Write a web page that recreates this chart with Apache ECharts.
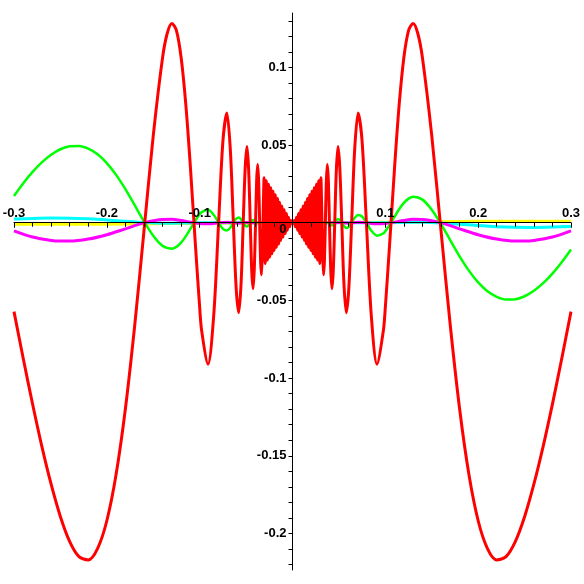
<!DOCTYPE html>
<html>
<head>
<meta charset="utf-8">
<script src="https://cdn.jsdelivr.net/npm/echarts@6/dist/echarts.min.js"></script>
<style>
html,body{margin:0;padding:0;background:#fff;}
#c{width:584px;height:584px;}
</style>
</head>
<body>
<div id="c"></div>
<script>
// ---- data ----
const xTickLabels = [-0.3, -0.2, -0.1, 0.1, 0.2, 0.3];
const yMajorTicks = [-0.2, -0.15, -0.1, -0.05, 0, 0.05, 0.1];
const yAllTicks = [-0.22, -0.21, -0.2, -0.19, -0.18, -0.17, -0.16, -0.15, -0.14, -0.13, -0.12, -0.11, -0.1,
  -0.09, -0.08, -0.07, -0.06, -0.05, -0.04, -0.03, -0.02, -0.01, 0, 0.01, 0.02, 0.03, 0.04, 0.05,
  0.06, 0.07, 0.08, 0.09, 0.1, 0.11, 0.12, 0.13];

const redX = [
  -0.30,-0.29,-0.28,-0.27,-0.26,-0.25,-0.24,-0.23,-0.22,-0.21,-0.20,-0.19,-0.18,-0.17,-0.16,-0.15,-0.14,-0.135,-0.13,-0.125,-0.12,-0.115,-0.11,-0.105,-0.10,
  -0.0979,-0.0910,-0.0849,-0.0796,-0.0749,-0.0707,-0.0670,-0.0637,-0.0606,-0.0579,-0.0554,-0.0531,-0.0509,-0.0490,-0.0472,-0.0455,-0.0439,-0.0424,-0.0411,-0.0398,-0.0386,-0.0375,-0.0364,-0.0354,-0.0344,-0.0335,-0.0327,-0.0318,
  -0.0306,-0.0294,-0.0282,-0.0270,-0.0258,-0.0246,-0.0234,-0.0222,-0.0210,-0.0198,-0.0186,-0.0174,-0.0162,-0.0150,-0.0138,-0.0126,-0.0114,-0.0102,-0.0090,-0.0078,-0.0066,-0.0054,-0.0042,-0.0030,-0.0018,-0.0006,
  0,
  0.0006,0.0018,0.0030,0.0042,0.0054,0.0066,0.0078,0.0090,0.0102,0.0114,0.0126,0.0138,0.0150,0.0162,0.0174,0.0186,0.0198,0.0210,0.0222,0.0234,0.0246,0.0258,0.0270,0.0282,0.0294,0.0306,
  0.0318,0.0327,0.0335,0.0344,0.0354,0.0364,0.0375,0.0386,0.0398,0.0411,0.0424,0.0439,0.0455,0.0472,0.0490,0.0509,0.0531,0.0554,0.0579,0.0606,0.0637,0.0670,0.0707,0.0749,0.0796,0.0849,0.0910,0.0979,
  0.10,0.105,0.11,0.115,0.12,0.125,0.13,0.135,0.14,0.15,0.16,0.17,0.18,0.19,0.20,0.21,0.22,0.23,0.24,0.25,0.26,0.27,0.28,0.29,0.30
];
const redY = [
  -0.0572,-0.0875,-0.1167,-0.1439,-0.1683,-0.1892,-0.2052,-0.2149,-0.2170,-0.2097,-0.1918,-0.1619,-0.1197,-0.0663,-0.0053,0.0561,0.1061,0.1218,0.1283,0.1237,0.1065,0.0766,0.0360,-0.0104,-0.0544,
  -0.0693,-0.0910,-0.0600,0,0.0530,0.0707,0.0474,0,-0.0429,-0.0579,-0.0391,0,0.0360,0.0490,0.0334,0,-0.0311,-0.0424,-0.0290,0,0.0273,0.0375,0.0257,0,-0.0243,-0.0335,-0.0231,0,
  0.0290,-0.0262,0.0270,-0.0240,0.0248,-0.0222,0.0226,-0.0200,0.0202,-0.0178,0.0180,-0.0158,0.0156,-0.0136,0.0132,-0.0114,0.0108,-0.0092,0.0084,-0.0070,0.0060,-0.0048,0.0036,-0.0026,0.0014,-0.0004,
  0,
  -0.0004,0.0014,-0.0026,0.0036,-0.0048,0.0060,-0.0070,0.0084,-0.0092,0.0108,-0.0114,0.0132,-0.0136,0.0156,-0.0158,0.0180,-0.0178,0.0202,-0.0200,0.0226,-0.0222,0.0248,-0.0240,0.0270,-0.0262,0.0290,
  0,-0.0231,-0.0335,-0.0243,0,0.0257,0.0375,0.0273,0,-0.0290,-0.0424,-0.0311,0,0.0334,0.0490,0.0360,0,-0.0391,-0.0579,-0.0429,0,0.0474,0.0707,0.0530,0,-0.0600,-0.0910,-0.0693,
  -0.0544,-0.0104,0.0360,0.0766,0.1065,0.1237,0.1283,0.1218,0.1061,0.0561,-0.0053,-0.0663,-0.1197,-0.1619,-0.1918,-0.2097,-0.2170,-0.2149,-0.2052,-0.1892,-0.1683,-0.1439,-0.1167,-0.0875,-0.0572
];

const greenX = [
  -0.30,-0.29,-0.28,-0.27,-0.26,-0.25,-0.24,-0.23,-0.22,-0.21,-0.20,-0.19,-0.18,-0.17,-0.16,-0.15,-0.14,-0.13,-0.125,-0.12,-0.115,-0.11,-0.105,-0.10,
  -0.0979,-0.0910,-0.0849,-0.0796,-0.0749,-0.0707,-0.0670,-0.0637,-0.0606,-0.0579,-0.0554,-0.0531,-0.0509,-0.0490,-0.0472,-0.0455,-0.0439,-0.0424,-0.0411,-0.0398,
  -0.035,0,0.035,
  0.0398,0.0411,0.0424,0.0439,0.0455,0.0472,0.0490,0.0509,0.0531,0.0554,0.0579,0.0606,0.0637,0.0670,0.0707,0.0749,0.0796,0.0849,0.0910,0.0979,
  0.10,0.105,0.11,0.115,0.12,0.125,0.13,0.14,0.15,0.16,0.17,0.18,0.19,0.20,0.21,0.22,0.23,0.24,0.25,0.26,0.27,0.28,0.29,0.30
];
const greenY = [
  0.0172,0.0254,0.0327,0.0389,0.0438,0.0473,0.0492,0.0494,0.0477,0.0441,0.0384,0.0308,0.0216,0.0113,0.0009,-0.0084,-0.0149,-0.0167,-0.0155,-0.0128,-0.0088,-0.0040,0.0011,0.0054,
  0.0068,0.0083,0.0051,0,-0.0040,-0.0050,-0.0032,0,0.0026,0.0034,0.0022,0,-0.0018,-0.0024,-0.0016,0,0.0014,0.0018,0.0012,0,
  0,0,0,
  0,-0.0012,-0.0018,-0.0014,0,0.0016,0.0024,0.0018,0,-0.0022,-0.0034,-0.0026,0,0.0032,0.0050,0.0040,0,-0.0051,-0.0083,-0.0068,
  -0.0054,-0.0011,0.0040,0.0088,0.0128,0.0155,0.0167,0.0149,0.0084,-0.0009,-0.0113,-0.0216,-0.0308,-0.0384,-0.0441,-0.0477,-0.0494,-0.0492,-0.0473,-0.0438,-0.0389,-0.0327,-0.0254,-0.0172
];

const magentaX = [-0.30,-0.28,-0.26,-0.25,-0.24,-0.22,-0.20,-0.18,-0.16,-0.14,-0.13,-0.12,-0.11,-0.10,-0.09,-0.08,-0.07,-0.06,-0.05,-0.04,
  0, 0.04,0.05,0.06,0.07,0.08,0.09,0.10,0.11,0.12,0.13,0.14,0.16,0.18,0.20,0.22,0.24,0.25,0.26,0.28,0.30];
const magentaY = [-0.0052,-0.0092,-0.0114,-0.0118,-0.0118,-0.0105,-0.0077,-0.0039,-0.0001,0.0021,0.0022,0.0015,0.0004,-0.0005,-0.0007,0,0.0003,-0.0002,0.0001,0,
  0, 0,0.0001,-0.0002,0.0003,0,-0.0007,-0.0005,0.0004,0.0015,0.0022,0.0021,-0.0001,-0.0039,-0.0077,-0.0105,-0.0118,-0.0118,-0.0114,-0.0092,-0.0052];

const cyanX = [-0.30,-0.28,-0.26,-0.24,-0.22,-0.20,-0.18,-0.16,-0.14,-0.12,-0.10,0,0.10,0.12,0.14,0.16,0.18,0.20,0.22,0.24,0.26,0.28,0.30];
const cyanY = [0.0024,0.0028,0.0030,0.0029,0.0025,0.0018,0.0009,0.0001,-0.0003,-0.0002,0,0,0,0.0002,0.0003,-0.0001,-0.0009,-0.0018,-0.0025,-0.0029,-0.0030,-0.0028,-0.0024];

const yellowX = [-0.3,-0.2,-0.1,0,0.1,0.2,0.3];
const yellowY = [-0.0010,-0.0009,-0.0003,0,0.0003,0.0009,0.0010];

// ---- chart ----
const zip = (xs, ys) => xs.map((x, i) => [x, ys[i]]);
const FONT = {color:'#000', fontWeight:'bold', fontSize:13, fontFamily:'"Liberation Sans", Arial, sans-serif'};
const fmt = v => String(Math.round(v * 1000) / 1000);
const X_MIN = -0.3, X_MAX = 0.3, Y_MIN = -0.2235, Y_MAX = 0.135;

const chart = echarts.init(document.getElementById('c'), null, {renderer:'canvas'});
const lineS = (name, xs, ys, color, w, smooth) => ({
  name, type:'line', data: zip(xs, ys), symbol:'none', smooth: smooth,
  lineStyle:{color, width:w, join:'round'}, itemStyle:{color}, z:2, animation:false, clip:true
});
chart.setOption({
  animation:false,
  backgroundColor:'#fff',
  grid:{left:14, right:13, top:13, bottom:14, containLabel:false, outerBoundsMode:'none'},
  xAxis:{
    type:'value', min:X_MIN, max:X_MAX, interval:0.1, z:10, position:'bottom', offset:0,
    splitLine:{show:false},
    axisLine:{show:true, onZero:false, lineStyle:{color:'#000', width:1}},
    axisTick:{show:true, inside:false, length:5, lineStyle:{color:'#000', width:1}},
    minorTick:{show:true, splitNumber:5, length:4, lineStyle:{color:'#000', width:1}},
    axisLabel:Object.assign({
      inside:true, margin:3,
      formatter: v => (xTickLabels.some(t => Math.abs(t - v) < 1e-6) ? fmt(v) : '')
    }, FONT)
  },
  yAxis:{
    type:'value', min:Y_MIN, max:Y_MAX, z:10, position:'left', offset:0,
    splitLine:{show:false},
    axisLine:{show:true, onZero:false, lineStyle:{color:'#000', width:1}},
    axisTick:{show:true, inside:false, length:4, customValues:yAllTicks, lineStyle:{color:'#000', width:1}},
    axisLabel:Object.assign({
      margin:6, customValues:yMajorTicks,
      formatter: v => (Math.abs(v) < 1e-9 ? '{z|0}' : fmt(v)),
      rich:{ z:Object.assign({padding:[13,0,0,0]}, FONT) }
    }, FONT)
  },
  series:[
    lineS('yellow', yellowX, yellowY, '#ffff00', 3, false),
    lineS('cyan', cyanX, cyanY, '#00ffff', 3, 0.3),
    lineS('magenta', magentaX, magentaY, '#ff00ff', 3, 0.3),
    lineS('green', greenX, greenY, '#00ff00', 2.5, 0.3),
    lineS('red', redX, redY, '#ff0000', 3, 0.3)
  ]
});
// move both axes so that they cross at the origin (axes drawn through zero)
const gridLeft = chart.convertToPixel({xAxisIndex:0}, X_MIN);
const gridBottom = chart.convertToPixel({yAxisIndex:0}, Y_MIN);
const px0 = chart.convertToPixel({xAxisIndex:0}, 0);
const py0 = chart.convertToPixel({yAxisIndex:0}, 0);
chart.setOption({
  xAxis:{offset: py0 - gridBottom},
  yAxis:{offset: gridLeft - px0}
});
</script>
</body>
</html>
